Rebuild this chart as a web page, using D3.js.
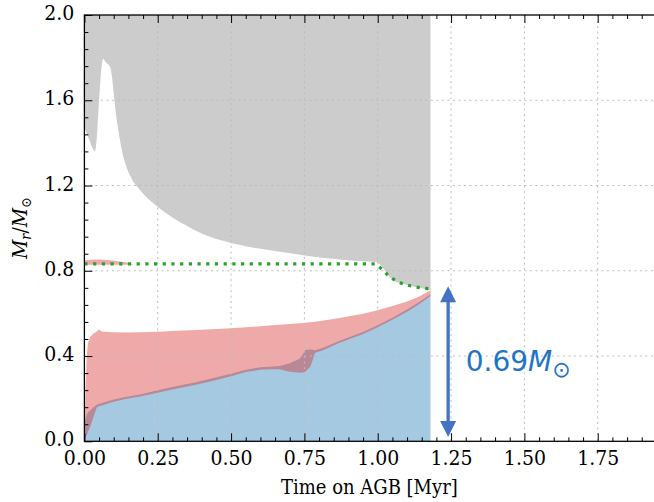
<!DOCTYPE html>
<html><head><meta charset="utf-8">
<script src="https://cdn.jsdelivr.net/npm/d3@7"></script>
<style>
html,body{margin:0;padding:0;background:#fff;}
svg{display:block;}
</style></head>
<body><svg id="c" width="654" height="502"></svg>
<script>
// ---------- data ----------
const xTicks = [0, 0.25, 0.5, 0.75, 1.0, 1.25, 1.5, 1.75];
const yTicks = [0, 0.4, 0.8, 1.2, 1.6, 2.0];
const xTickLabels = ["0.00","0.25","0.50","0.75","1.00","1.25","1.50","1.75"];
const yTickLabels = ["0.0","0.4","0.8","1.2","1.6","2.0"];

// gray region: lower boundary (upper bound is 2.0)
const grayT   = [0, 0.015, 0.03, 0.036, 0.042, 0.05, 0.058, 0.064, 0.072, 0.08, 0.088, 0.095, 0.1, 0.108, 0.117, 0.127, 0.138, 0.16, 0.19, 0.25, 0.3, 0.35, 0.4, 0.463, 0.55, 0.667, 0.75, 0.87, 0.95, 0.99, 1.0, 1.02, 1.04, 1.06, 1.1, 1.14, 1.18];
const grayLow = [1.47, 1.42, 1.37, 1.36, 1.42, 1.60, 1.75, 1.795, 1.78, 1.77, 1.755, 1.70, 1.63, 1.53, 1.45, 1.37, 1.31, 1.235, 1.178, 1.10, 1.05, 1.01, 0.975, 0.944, 0.915, 0.889, 0.872, 0.853, 0.845, 0.842, 0.838, 0.81, 0.772, 0.75, 0.735, 0.72, 0.709];
const grayTop = 2.0;

// thin pink band near 0.84
const bandT    = [0, 0.02, 0.05, 0.08, 0.11, 0.14, 0.165];
const bandLow  = [0.828, 0.828, 0.828, 0.828, 0.828, 0.828, 0.830];
const bandHigh = [0.848, 0.852, 0.853, 0.850, 0.846, 0.840, 0.832];

// core region: blue (0..blueTop) and red (redLow..redTop)
const coreT   = [0, 0.004, 0.008, 0.012, 0.02, 0.03, 0.042, 0.05, 0.06, 0.08, 0.1, 0.14, 0.19, 0.25, 0.3, 0.38, 0.45, 0.5, 0.55, 0.6, 0.63, 0.665, 0.7, 0.735, 0.745, 0.753, 0.77, 0.78, 0.786, 0.81, 0.87, 0.95, 1.0, 1.05, 1.1, 1.14, 1.18];
const blueTop = [0.08, 0.11, 0.125, 0.135, 0.145, 0.158, 0.172, 0.176, 0.18, 0.188, 0.196, 0.208, 0.22, 0.24, 0.255, 0.277, 0.30, 0.317, 0.336, 0.347, 0.35, 0.353, 0.366, 0.389, 0.41, 0.428, 0.431, 0.43, 0.427, 0.436, 0.472, 0.513, 0.545, 0.58, 0.618, 0.652, 0.69];
const redLow  = [0, 0.015, 0.03, 0.045, 0.068, 0.11, 0.158, 0.164, 0.168, 0.177, 0.186, 0.198, 0.21, 0.228, 0.243, 0.265, 0.288, 0.305, 0.325, 0.336, 0.338, 0.3375, 0.326, 0.322, 0.323, 0.326, 0.35, 0.389, 0.415, 0.425, 0.462, 0.503, 0.535, 0.57, 0.608, 0.642, 0.682];
const redTop  = [0, 0.25, 0.40, 0.46, 0.49, 0.505, 0.515, 0.525, 0.515, 0.513, 0.512, 0.511, 0.512, 0.514, 0.517, 0.522, 0.527, 0.53, 0.535, 0.54, 0.543, 0.547, 0.55, 0.554, 0.555, 0.556, 0.558, 0.56, 0.561, 0.565, 0.578, 0.598, 0.615, 0.635, 0.656, 0.678, 0.709];

// green dotted line
const greenT = [0, 0.2, 0.5, 0.8, 0.99, 1.0, 1.02, 1.04, 1.06, 1.08, 1.1, 1.13, 1.16, 1.18];
const greenY = [0.832, 0.832, 0.832, 0.832, 0.832, 0.825, 0.80, 0.772, 0.755, 0.742, 0.733, 0.724, 0.718, 0.716];

// annotation arrow and label
const arrowT = 1.24;
const arrowRange = [0.02, 0.728];
const labelValue = "0.69";
const labelPos = [1.30, 0.33];

// ---------- drawing ----------
const SERIF = "'DejaVu Serif Condensed', 'DejaVu Serif', serif";
const svg = d3.select("#c");
const L = 84.4, R = 656.4, T = 15, B = 441.3;
const x = d3.scaleLinear().domain([0, 1.95]).range([L, R]);
const y = d3.scaleLinear().domain([0, 2.0]).range([B, T]);

const grayFill = "rgba(128,128,128,0.4)";
const redFill  = "rgba(214,39,40,0.4)";
const blueFill = "rgba(31,119,180,0.4)";

const gray = grayT.map((t,i)=>({t, lo:grayLow[i], hi:grayTop}));
svg.append("path").datum(gray)
  .attr("d", d3.area().curve(d3.curveMonotoneX).x(d=>x(d.t)).y0(d=>y(d.lo)).y1(d=>y(d.hi)))
  .attr("fill", grayFill);

const band = bandT.map((t,i)=>({t, lo:bandLow[i], hi:bandHigh[i]}));
svg.append("path").datum(band)
  .attr("d", d3.area().x(d=>x(d.t)).y0(d=>y(d.lo)).y1(d=>y(d.hi)))
  .attr("fill", redFill);

const core = coreT.map((t,i)=>({t, b:blueTop[i], m:redLow[i], r:redTop[i]}));
svg.append("path").datum(core)
  .attr("d", d3.area().x(d=>x(d.t)).y0(y(0)).y1(d=>y(d.b)))
  .attr("fill", blueFill);
svg.append("path").datum(core)
  .attr("d", d3.area().x(d=>x(d.t)).y0(d=>y(d.m)).y1(d=>y(d.r)))
  .attr("fill", redFill);

// grid
const grid = svg.append("g");
grid.selectAll("line.gx").data(xTicks.filter(v=>v>0)).join("line")
  .attr("x1", d=>x(d)).attr("x2", d=>x(d)).attr("y1", T).attr("y2", B)
  .attr("stroke", "#bcbcbc").attr("stroke-width", 1).attr("stroke-dasharray", "2,3.5");
grid.selectAll("line.gy").data(yTicks.filter(v=>v>0 && v<2)).join("line")
  .attr("x1", L).attr("x2", R).attr("y1", d=>y(d)).attr("y2", d=>y(d))
  .attr("stroke", "#bcbcbc").attr("stroke-width", 1).attr("stroke-dasharray", "2,3.5");

// green dotted
svg.append("path").datum(greenT.map((t,i)=>({t, v:greenY[i]})))
  .attr("d", d3.line().x(d=>x(d.t)).y(d=>y(d.v)))
  .attr("fill","none").attr("stroke","#2ca02c").attr("stroke-width",3.2)
  .attr("stroke-dasharray","3.2,5.5");

// arrow
const ac = "#4472c4";
const ax = x(arrowT), ay0 = y(arrowRange[0]), ay1 = y(arrowRange[1]);
const hl = 16, hw = 8;
svg.append("line").attr("x1", ax).attr("x2", ax).attr("y1", ay0 - hl + 1).attr("y2", ay1 + hl - 1)
  .attr("stroke", ac).attr("stroke-width", 3.3);
svg.append("path").attr("d", `M${ax},${ay1} L${ax-hw},${ay1+hl} L${ax+hw},${ay1+hl} Z`).attr("fill", ac);
svg.append("path").attr("d", `M${ax},${ay0} L${ax-hw},${ay0-hl} L${ax+hw},${ay0-hl} Z`).attr("fill", ac);

// label
const lt = svg.append("text").attr("x", x(labelPos[0])).attr("y", y(labelPos[1]))
  .style("font-family", "'DejaVu Sans', sans-serif").style("font-size", "28px").attr("fill", "#1f74c4");
lt.append("tspan").text(labelValue);
lt.append("tspan").style("font-style","italic").text("M");
lt.append("tspan").attr("dy", 6).style("font-size", "22px").text("\u2299");

// axes
const fmtX = d => xTickLabels[xTicks.indexOf(d)];
const fmtY = d => yTickLabels[yTicks.indexOf(d)];
const minorX = d3.range(0, 1.951, 0.05).map(v=>+v.toFixed(2)).filter(v=>!xTicks.some(t=>Math.abs(t-v)<1e-6));
const minorY = d3.range(0, 2.001, 0.08).map(v=>+v.toFixed(2)).filter(v=>!yTicks.some(t=>Math.abs(t-v)<1e-6));

function styleAxis(g){
  g.attr("font-family", null).attr("font-size", null);
  g.select(".domain").remove();
  g.selectAll(".tick line").attr("stroke","#000").attr("stroke-width",1);
  g.selectAll(".tick text").style("font-family", SERIF).style("font-stretch","condensed")
    .style("font-size","21px").attr("fill","#000");
}
svg.append("g").attr("transform",`translate(0,${B})`)
  .call(d3.axisBottom(x).tickValues(xTicks).tickFormat(fmtX).tickSize(-8).tickPadding(9)).call(styleAxis);
svg.append("g").attr("transform",`translate(0,${B})`)
  .call(d3.axisBottom(x).tickValues(minorX).tickFormat("").tickSize(-4)).call(styleAxis);
svg.append("g").attr("transform",`translate(0,${T})`)
  .call(d3.axisTop(x).tickValues(xTicks).tickFormat("").tickSize(-8)).call(styleAxis);
svg.append("g").attr("transform",`translate(0,${T})`)
  .call(d3.axisTop(x).tickValues(minorX).tickFormat("").tickSize(-4)).call(styleAxis);
const yAx = svg.append("g").attr("transform",`translate(${L},0)`)
  .call(d3.axisLeft(y).tickValues(yTicks).tickFormat(fmtY).tickSize(-8).tickPadding(10)).call(styleAxis);
yAx.selectAll(".tick text").attr("dy", "0.22em");
svg.append("g").attr("transform",`translate(${L},0)`)
  .call(d3.axisLeft(y).tickValues(minorY).tickFormat("").tickSize(-4)).call(styleAxis);

// frame
svg.append("rect").attr("x", L).attr("y", T).attr("width", R-L).attr("height", B-T)
  .attr("fill","none").attr("stroke","#000").attr("stroke-width",1.3);

// axis titles
svg.append("text").attr("x", (L+R)/2 - 1).attr("y", 494).attr("text-anchor","middle")
  .style("font-family", SERIF).style("font-stretch","condensed").style("font-size","20px").text("Time on AGB [Myr]");
const yl = svg.append("text").attr("transform",`translate(27,${(T+B)/2}) rotate(-90)`).attr("text-anchor","middle")
  .style("font-family", SERIF).style("font-stretch","condensed").style("font-size","21px");
yl.append("tspan").style("font-style","italic").text("M");
yl.append("tspan").style("font-style","italic").style("font-size","14px").attr("dy",4).text("r");
yl.append("tspan").attr("dy",-4).text("/");
yl.append("tspan").style("font-style","italic").text("M");
yl.append("tspan").style("font-size","14px").attr("dy",4).text("\u2299");
</script></body></html>
